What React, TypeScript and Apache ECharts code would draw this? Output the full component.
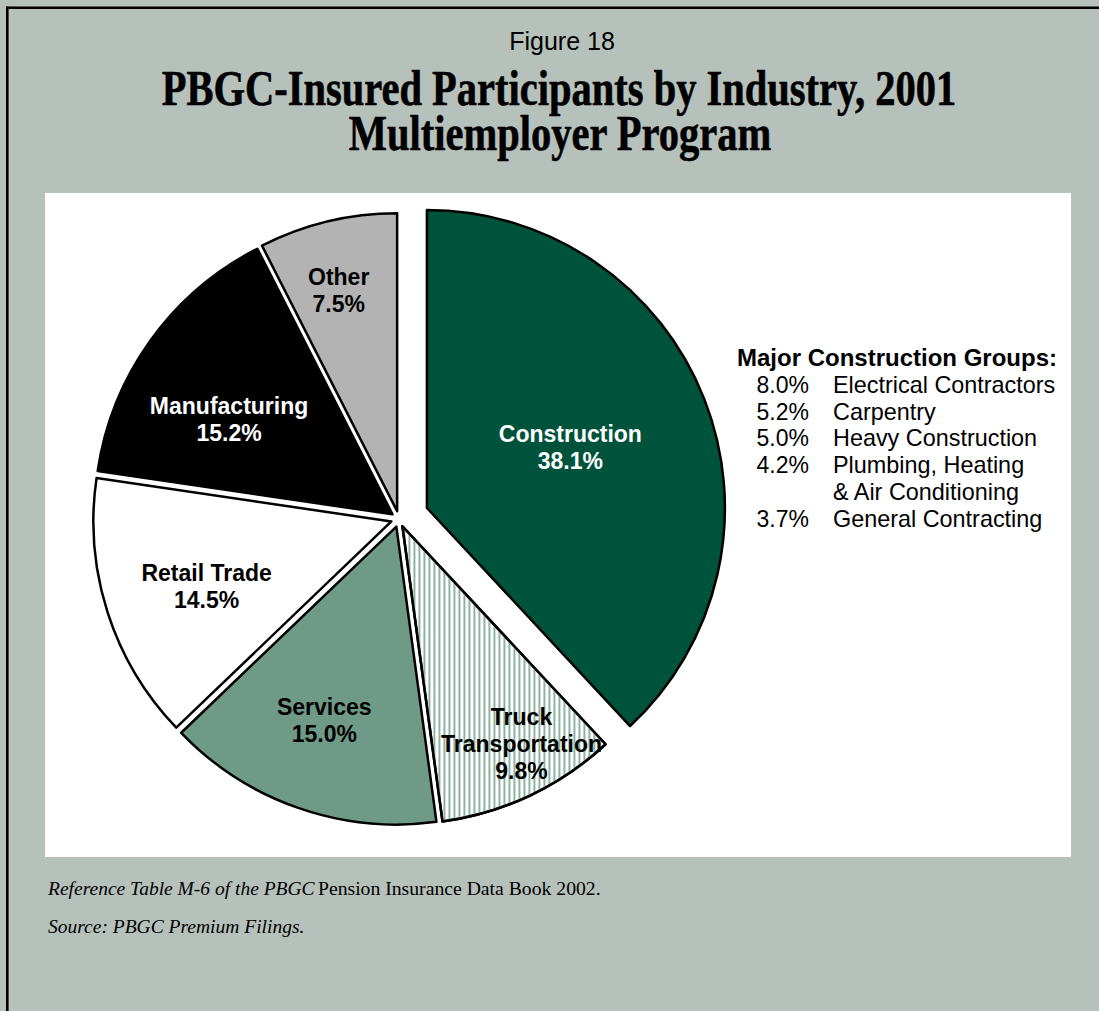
import React, { useEffect, useRef } from 'react';
import * as echarts from 'echarts';

const CATEGORIES = ['Construction', 'Truck Transportation', 'Services', 'Retail Trade', 'Manufacturing', 'Other'];
const SHARES = [38.1, 9.8, 15.0, 14.5, 15.2, 7.5];
const GROUP_SHARES = ['8.0%', '5.2%', '5.0%', '4.2%', '', '3.7%'];
const GROUP_NAMES = ['Electrical Contractors', 'Carpentry', 'Heavy Construction', 'Plumbing, Heating', '& Air Conditioning', 'General Contracting'];

const FILLS = ['#00533b', '#ffffff', '#6f9a87', '#ffffff', '#000000', '#b3b3b3'];
const LABEL_COLORS = ['#ffffff', '#000000', '#000000', '#000000', '#ffffff', '#000000'];
const LABEL_SHIFT = [[2, -5], [54, 80], [-22, 50], [-40, 19], [-40, -6], [-23, -73]];

const BG = '#b7c1bb';
const SANS = '"Liberation Sans", Arial, sans-serif';
const SERIF = '"Liberation Serif", "Times New Roman", serif';

function labelText(name: string, value: number) {
  const n = name === 'Truck Transportation' ? 'Truck\nTransportation' : name;
  return `${n}\n${value.toFixed(1)}%`;
}

function buildData(visible: (i: number) => boolean) {
  return CATEGORIES.map((name, i) => {
    const show = visible(i);
    const itemStyle: any = show
      ? { color: FILLS[i], borderColor: '#000', borderWidth: 2.5 }
      : { color: 'rgba(0,0,0,0)', borderWidth: 0 };
    if (show && name === 'Truck Transportation') {
      itemStyle.decal = {
        symbol: 'rect',
        symbolSize: 1,
        color: '#8fb2a2',
        dashArrayX: [2, 2.5],
        dashArrayY: [8, 0],
        rotation: 0,
      };
    }
    return {
      name,
      value: SHARES[i],
      selected: true,
      itemStyle,
      select: { itemStyle },
      label: {
        show,
        color: LABEL_COLORS[i],
      },
    };
  });
}

export default function App() {
  const ref = useRef<HTMLDivElement>(null);
  useEffect(() => {
    document.body.style.margin = '0';
    const chart = echarts.init(ref.current!, null, { renderer: 'svg' });

    const commonSeries = {
      type: 'pie',
      center: [399, 519],
      radius: [0, 298],
      startAngle: 90,
      clockwise: true,
      silent: true,
      animation: false,
      emphasis: { disabled: true },
      labelLine: { show: false },
      label: {
        position: 'inside',
        formatter: (p: any) => labelText(p.name, p.value),
        fontFamily: SANS,
        fontWeight: 'bold',
        fontSize: 23,
        lineHeight: 27,
        align: 'center',
      },
      labelLayout: (p: any) => {
        const s = LABEL_SHIFT[p.dataIndex];
        return { dx: s[0], dy: s[1] };
      },
    };

    const legendTexts: any[] = [
      {
        type: 'text', x: 737, y: 357,
        style: { text: 'Major Construction Groups:', font: `bold 24px ${SANS}`, fill: '#000', textAlign: 'left', textVerticalAlign: 'middle' },
      },
    ];
    GROUP_NAMES.forEach((g, i) => {
      const y = 385 + i * 26.7;
      if (GROUP_SHARES[i]) {
        legendTexts.push({
          type: 'text', x: 809, y,
          style: { text: GROUP_SHARES[i], font: `23px ${SANS}`, fill: '#000', textAlign: 'right', textVerticalAlign: 'middle' },
        });
      }
      legendTexts.push({
        type: 'text', x: 833, y,
        style: { text: g, font: `23.4px ${SANS}`, fill: '#000', textAlign: 'left', textVerticalAlign: 'middle' },
      });
    });

    chart.setOption({
      animation: false,
      backgroundColor: BG,
      graphic: [
        { type: 'rect', z: -10, shape: { x: 45, y: 193, width: 1026, height: 664 }, style: { fill: '#ffffff' } },
        { type: 'line', shape: { x1: 7.3, y1: 6.6, x2: 7.3, y2: 1011 }, style: { stroke: '#000', lineWidth: 2.6 } },
        { type: 'line', shape: { x1: 6, y1: 7.8, x2: 1099, y2: 7.8 }, style: { stroke: '#000', lineWidth: 2.6 } },
        {
          type: 'text', x: 562, y: 41,
          style: { text: 'Figure 18', font: `25px ${SANS}`, fill: '#000', textAlign: 'center', textVerticalAlign: 'middle' },
        },
        {
          type: 'text', x: 559, y: 88, scaleX: 0.81,
          style: { text: 'PBGC-Insured Participants by Industry, 2001', font: `bold 50px ${SERIF}`, fill: '#000', stroke: '#000', lineWidth: 0.6, textAlign: 'center', textVerticalAlign: 'middle' },
        },
        {
          type: 'text', x: 560, y: 133, scaleX: 0.81,
          style: { text: 'Multiemployer Program', font: `bold 50px ${SERIF}`, fill: '#000', stroke: '#000', lineWidth: 0.6, textAlign: 'center', textVerticalAlign: 'middle' },
        },
        ...legendTexts,
        {
          type: 'text', x: 48, y: 888,
          style: {
            text: '{i|Reference Table M-6 of the PBGC} {r|Pension Insurance Data Book 2002.}',
            textAlign: 'left', textVerticalAlign: 'middle',
            rich: {
              i: { fontFamily: SERIF, fontStyle: 'italic', fontSize: 19.5, fill: '#000' },
              r: { fontFamily: SERIF, fontSize: 19.7, fill: '#000' },
            },
          },
        },
        {
          type: 'text', x: 48, y: 926,
          style: { text: 'Source: PBGC Premium Filings.', font: `italic 19.5px ${SERIF}`, fill: '#000', textAlign: 'left', textVerticalAlign: 'middle' },
        },
      ],
      series: [
        {
          ...commonSeries,
          name: 'others',
          selectedMode: 'multiple',
          selectedOffset: 8,
          data: buildData((i) => i !== 0),
        },
        {
          ...commonSeries,
          name: 'construction',
          selectedMode: 'multiple',
          selectedOffset: 30,
          data: buildData((i) => i === 0),
        },
      ],
    });
    return () => chart.dispose();
  }, []);
  return <div ref={ref} style={{ width: 1099, height: 1011 }} />;
}
